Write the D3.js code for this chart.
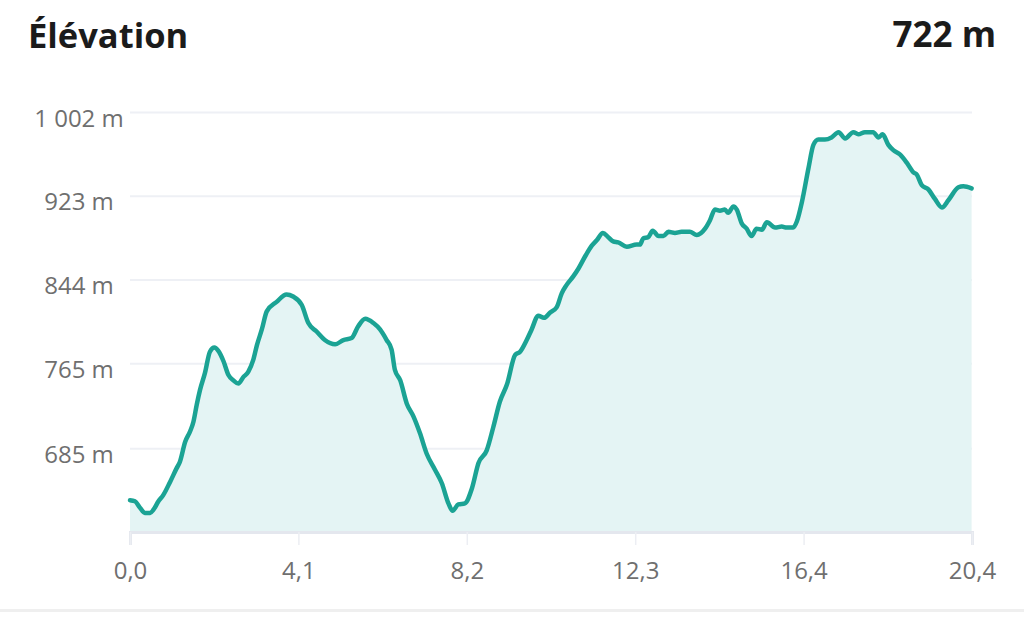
<!DOCTYPE html>
<html>
<head>
<meta charset="utf-8">
<script src="https://cdn.jsdelivr.net/npm/d3@7"></script>
<style>
  body { margin: 0; background: #ffffff; }
  .chart text { font-family: "Open Sans", "Noto Sans", sans-serif; }
</style>
</head>
<body>
<div class="chart"></div>
<script>
// Elevation profile data (distance in km, elevation in m)
var distanceKm = [0.00, 0.12, 0.24, 0.36, 0.49, 0.57, 0.69, 0.81, 0.97, 1.13,
  1.21, 1.34, 1.46, 1.54, 1.62, 1.70, 1.82, 1.94, 2.05, 2.14,
  2.27, 2.39, 2.51, 2.63, 2.75, 2.87, 2.99, 3.08, 3.20, 3.32,
  3.56, 3.80, 3.96, 4.17, 4.33, 4.53, 4.73, 4.98, 5.18, 5.38,
  5.54, 5.71, 5.91, 6.07, 6.23, 6.35, 6.43, 6.56, 6.72, 6.88,
  7.04, 7.20, 7.40, 7.57, 7.73, 7.83, 7.97, 8.13, 8.30, 8.46,
  8.66, 8.82, 8.98, 9.15, 9.35, 9.47, 9.63, 9.75, 9.91, 10.05,
  10.20, 10.36, 10.48, 10.60, 10.76, 10.88, 11.05, 11.21, 11.33, 11.48,
  11.61, 11.73, 11.85, 12.06, 12.30, 12.38, 12.46, 12.58, 12.69, 12.83,
  12.95, 13.07, 13.23, 13.39, 13.59, 13.76, 13.96, 14.08, 14.20, 14.32,
  14.44, 14.52, 14.65, 14.73, 14.85, 14.97, 15.09, 15.21, 15.34, 15.46,
  15.66, 15.82, 15.94, 16.10, 16.19, 16.31, 16.47, 16.59, 16.71, 16.87,
  17.03, 17.20, 17.36, 17.56, 17.68, 17.84, 18.04, 18.17, 18.27, 18.41,
  18.53, 18.69, 18.86, 19.02, 19.10, 19.22, 19.38, 19.54, 19.71, 19.87,
  20.11, 20.23, 20.43];

var elevationM = [636, 635, 629, 624, 624, 627, 635, 641, 653, 666,
  672, 691, 701, 710, 726, 740, 756, 776, 780, 777,
  767, 754, 749, 746, 752, 757, 768, 782, 797, 814,
  823, 830, 828, 820, 803, 795, 787, 783, 787, 789,
  800, 807, 803, 797, 787, 778, 759, 749, 727, 715,
  699, 680, 665, 652, 633, 626, 632, 633, 647, 671,
  683, 705, 729, 745, 773, 776, 787, 797, 810, 808,
  813, 818, 831, 839, 847, 854, 866, 876, 881, 888,
  884, 880, 879, 875, 877, 877, 883, 884, 890, 885,
  885, 889, 888, 889, 889, 886, 892, 900, 910, 909,
  910, 907, 913, 910, 897, 892, 885, 892, 891, 898,
  893, 894, 893, 893, 899, 917, 949, 971, 976, 976,
  978, 983, 977, 983, 981, 983, 983, 978, 981, 971,
  966, 962, 954, 945, 943, 933, 929, 920, 912, 919,
  931, 932, 930];

var yTickValues = [685, 765, 844, 923, 1002];
var yTickLabels = ["685 m", "765 m", "844 m", "923 m", "1 002 m"];
var xTickLabels = ["0,0", "4,1", "8,2", "12,3", "16,4", "20,4"];

var totalKm = 20.44;
var minElev = 606;
var maxElev = 1002;

var svgWidth = 1024;
var svgHeight = 618;

var margin = {
  top: 112,
  right: 52,
  bottom: 86,
  left: 130
};

var width = svgWidth - margin.left - margin.right;
var height = svgHeight - margin.top - margin.bottom;

var svg = d3
  .select(".chart")
  .append("svg")
  .attr("width", svgWidth)
  .attr("height", svgHeight);

// Header texts
//--------------------------------------------------------------
svg.append("text")
  .attr("x", 28)
  .attr("y", 48)
  .attr("font-size", 34.5)
  .attr("font-weight", 700)
  .attr("fill", "#1b1b1b")
  .text("Élévation");

svg.append("text")
  .attr("x", 996)
  .attr("y", 47)
  .attr("text-anchor", "end")
  .attr("font-size", 35)
  .attr("font-weight", 700)
  .attr("fill", "#1b1b1b")
  .text("722 m");

// bottom separator
svg.append("rect")
  .attr("x", 0)
  .attr("y", 609)
  .attr("width", svgWidth)
  .attr("height", 3)
  .attr("fill", "#efefef");

var chartGroup = svg.append("g")
  .attr("transform", `translate(${margin.left}, ${margin.top})`);

// Scales
//--------------------------------------------------------------
var xLinearScale = d3.scaleLinear()
  .domain([0, totalKm])
  .range([0, width]);

var yLinearScale = d3.scaleLinear()
  .domain([minElev, maxElev])
  .range([height, 0]);

var points = distanceKm.map((d, i) => ({ km: d, elev: elevationM[i] }));

// Grid lines (y axis), labels centred in the left gutter
//--------------------------------------------------------------
var leftAxis = d3.axisLeft(yLinearScale)
  .tickValues(yTickValues)
  .tickSize(-width)
  .tickFormat((d, i) => yTickLabels[i]);

var yAxis = chartGroup.append("g")
  .call(leftAxis);

yAxis.select(".domain").remove();
yAxis.selectAll(".tick line")
  .attr("stroke", "#eef0f5")
  .attr("stroke-width", 2);
yAxis.selectAll(".tick text")
  .attr("text-anchor", "middle")
  .attr("x", -51)
  .attr("y", 14)
  .attr("dy", null)
  .attr("font-size", 24)
  .attr("fill", "#6f6f6f");

// Area + line
//--------------------------------------------------------------
var area = d3.area()
  .x(d => xLinearScale(d.km))
  .y0(height)
  .y1(d => yLinearScale(d.elev))
  .curve(d3.curveMonotoneX);

var line = d3.line()
  .x(d => xLinearScale(d.km))
  .y(d => yLinearScale(d.elev))
  .curve(d3.curveMonotoneX);

chartGroup.append("path")
  .datum(points)
  .attr("d", area)
  .attr("fill", "#e4f4f4");

// x axis
//--------------------------------------------------------------
var xTickValues = xTickLabels.map((d, i) => totalKm * i / 5);

var bottomAxis = d3.axisBottom(xLinearScale)
  .tickValues(xTickValues)
  .tickSize(13)
  .tickPadding(17)
  .tickFormat((d, i) => xTickLabels[i]);

var xAxis = chartGroup.append("g")
  .attr("transform", `translate(0, ${height})`)
  .call(bottomAxis);

xAxis.select(".domain")
  .attr("stroke", "#e4e7ee")
  .attr("stroke-width", 3);
xAxis.selectAll(".tick line")
  .attr("stroke", "#eceef3")
  .attr("stroke-width", 1.5);
xAxis.selectAll(".tick text")
  .attr("font-size", 24)
  .attr("fill", "#6f6f6f");

chartGroup.append("path")
  .datum(points)
  .attr("d", line)
  .attr("fill", "none")
  .attr("stroke", "#1ba394")
  .attr("stroke-width", 4.5)
  .attr("stroke-linejoin", "round")
  .attr("stroke-linecap", "round");
</script>
</body>
</html>
